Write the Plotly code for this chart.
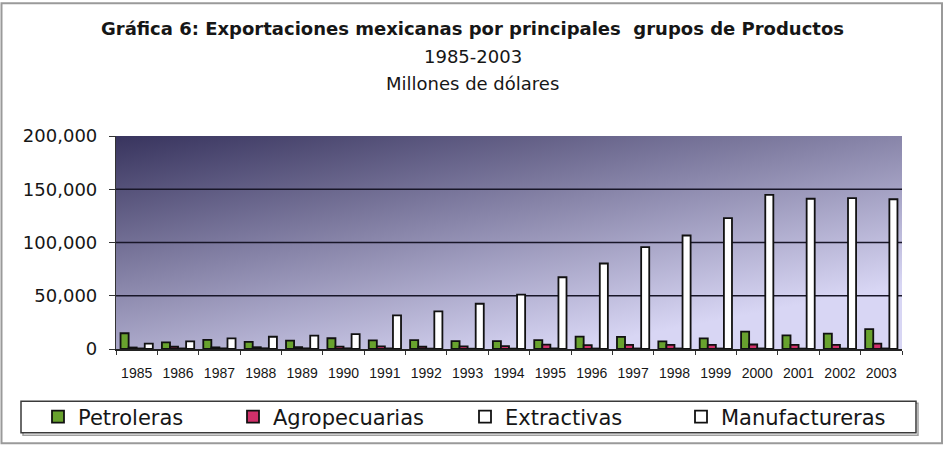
import base64
import plotly.graph_objects as go

# ---- data (millones de dólares) ----
years = [str(y) for y in range(1985, 2004)]
petroleras = [14767, 6307, 8630, 6711, 7876, 10104, 8166, 8307, 7418, 7445,
              8423, 11654, 11323, 7134, 9928, 16383, 12799, 14476, 18602]
agropecuarias = [1409, 2098, 1543, 1670, 1754, 2162, 2373, 2112, 2504, 2678,
                 4016, 3592, 3828, 3797, 3926, 4217, 3903, 3866, 5034]
extractivas = [510, 510, 576, 660, 605, 617, 547, 356, 278, 357,
               545, 449, 478, 466, 452, 521, 389, 366, 496]
manufactureras = [4978, 7116, 9907, 11504, 12607, 13955, 31602, 35420, 42500, 51075,
                  67383, 80305, 95565, 106550, 122819, 144725, 141098, 141600, 140632]

series_names = ["Petroleras", "Agropecuarias", "Extractivas", "Manufactureras"]
series_values = [petroleras, agropecuarias, extractivas, manufactureras]
series_colors = ["#68a22e", "#d0306a", "#ffffff", "#ffffff"]
y_ticks = [0, 50000, 100000, 150000, 200000]
grid_values = [50000, 100000, 150000]

# ---- page geometry (pixels) ----
W, H = 945, 450
L, R, T, B = 116, 902, 136, 352


def px(x):
    return (x - L) / (R - L)


def py(y):
    return (B - y) / (B - T)


TEXT = "#161616"
FONT = "DejaVu Sans"

fig = go.Figure()
legend_ids = ["legend", "legend2", "legend3", "legend4"]
for name, vals, col, lg in zip(series_names, series_values, series_colors, legend_ids):
    fig.add_trace(go.Bar(
        x=years, y=vals, name=name, legend=lg,
        marker=dict(color=col, line=dict(color="#111111", width=1.8)),
    ))

# diagonal gradient behind the bars
svg = (
    '<svg xmlns="http://www.w3.org/2000/svg" width="100" height="100" '
    'viewBox="0 0 100 100" preserveAspectRatio="none">'
    '<defs><linearGradient id="g" x1="0" y1="0" x2="0.66" y2="0.94">'
    '<stop offset="0" stop-color="#38345e"/>'
    '<stop offset="1" stop-color="#d8d6f4"/>'
    '</linearGradient></defs>'
    '<rect width="100" height="100" fill="url(#g)"/></svg>'
)
grad_src = "data:image/svg+xml;base64," + base64.b64encode(svg.encode()).decode()

shapes = []
for v in grid_values:
    shapes.append(dict(type="line", xref="paper", x0=0, x1=1, yref="y", y0=v, y1=v,
                       line=dict(color="#181628", width=1.4), layer="between"))
# legend frame with a soft shadow
shapes.append(dict(type="rect", xref="paper", yref="paper",
                   x0=px(23), x1=px(918), y0=py(439.5), y1=py(407),
                   line=dict(color="#a0a0a0", width=1.5), layer="below"))
shapes.append(dict(type="rect", xref="paper", yref="paper",
                   x0=px(21), x1=px(916), y0=py(437), y1=py(405),
                   fillcolor="white", line=dict(color="#3a3a3a", width=1.5), layer="below"))
# outer chart frame
shapes.append(dict(type="rect", xref="paper", yref="paper",
                   x0=px(1.5), x1=px(942), y0=py(447.5), y1=py(1.5),
                   line=dict(color="#9a9a9a", width=2), layer="below"))

legend_text_x = [75, 270, 502, 718]
legends = {}
for lg, tx in zip(legend_ids, legend_text_x):
    legends[lg] = dict(
        x=px(tx - 37), xanchor="left", y=py(421), yanchor="middle",
        orientation="h", bgcolor="rgba(0,0,0,0)", borderwidth=0,
        font=dict(family=FONT, size=21, color=TEXT),
    )

fig.update_layout(
    width=W, height=H,
    margin=dict(l=L, r=W - R, t=T, b=H - B, pad=0),
    paper_bgcolor="white", plot_bgcolor="#8a86b8",
    barmode="group", bargap=0.22, bargroupgap=0.0,
    showlegend=True,
    title=dict(
        text="<b>Gráfica 6: Exportaciones mexicanas por principales \u00a0grupos de Productos</b>",
        x=px(472.5), xref="paper", xanchor="center",
        y=1 - 29 / H, yref="container", yanchor="middle",
        font=dict(family=FONT, size=18, color=TEXT),
    ),
    annotations=[
        dict(text="1985-2003", xref="paper", yref="paper", x=px(472.5), y=py(55),
             showarrow=False, xanchor="center", yanchor="middle",
             font=dict(family=FONT, size=18, color=TEXT)),
        dict(text="Millones de dólares", xref="paper", yref="paper", x=px(472.5), y=py(83),
             showarrow=False, xanchor="center", yanchor="middle",
             font=dict(family=FONT, size=18, color=TEXT)),
    ],
    images=[dict(source=grad_src, xref="paper", yref="paper", x=0, y=1,
                 sizex=1, sizey=1, xanchor="left", yanchor="top",
                 sizing="stretch", layer="below")],
    shapes=shapes,
    xaxis=dict(
        type="category", tickson="boundaries", ticks="outside", ticklen=4,
        tickcolor="#333333", showline=True, linecolor="#222222", linewidth=1.5,
        showgrid=False, tickfont=dict(family="Liberation Sans", size=14, color=TEXT),
        ticklabelstandoff=10,
    ),
    yaxis=dict(
        range=[0, 200000], tickvals=y_ticks, tickformat=",", ticks="outside", ticklen=6,
        tickcolor="#333333", showline=True, linecolor="#333333", linewidth=1.2,
        showgrid=False, zeroline=False,
        tickfont=dict(family=FONT, size=18, color=TEXT), ticklabelstandoff=8,
    ),
    **legends,
)

fig.write_html("out.html")
